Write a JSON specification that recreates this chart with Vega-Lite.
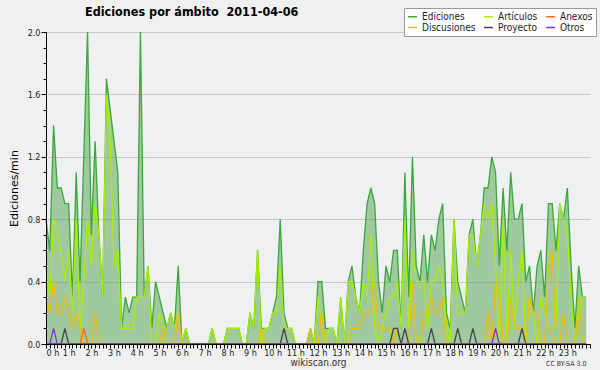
{
"$schema": "https://vega.github.io/schema/vega-lite/v6.json",
"autosize": "none",
"width": 544, "height": 312,
"padding": {"left": 46, "top": 32, "right": 10, "bottom": 26},
"background": "#f0f0f0",
"config": {"view": {"fill": "#eef0f2", "stroke": null}, "font": "DejaVu Sans"},
"title": {"text": "Ediciones por ámbito \u00a02011-04-06", "anchor": "start", "frame": "group", "dx": 39, "offset": 0, "dy": 11, "font": "DejaVu Sans Condensed", "fontSize": 12.5, "fontWeight": "bold", "color": "#000000"},
"data": {"values": [
{"t":0,"Ediciones":0.8,"Artículos":0.5,"Anexos":0,"Discusiones":0.3,"Proyecto":0,"Otros":0},
{"t":10,"Ediciones":0.6,"Artículos":0.3,"Anexos":0,"Discusiones":0.2,"Proyecto":0,"Otros":0},
{"t":20,"Ediciones":1.4,"Artículos":0.8,"Anexos":0,"Discusiones":0.4,"Proyecto":0,"Otros":0.1},
{"t":30,"Ediciones":1.0,"Artículos":0.7,"Anexos":0,"Discusiones":0.2,"Proyecto":0,"Otros":0},
{"t":40,"Ediciones":1.0,"Artículos":0.6,"Anexos":0,"Discusiones":0.2,"Proyecto":0,"Otros":0},
{"t":50,"Ediciones":0.9,"Artículos":0.4,"Anexos":0,"Discusiones":0.3,"Proyecto":0.1,"Otros":0},
{"t":60,"Ediciones":0.9,"Artículos":0.6,"Anexos":0,"Discusiones":0.2,"Proyecto":0,"Otros":0},
{"t":70,"Ediciones":0.3,"Artículos":0.2,"Anexos":0,"Discusiones":0.1,"Proyecto":0,"Otros":0},
{"t":80,"Ediciones":1.1,"Artículos":0.8,"Anexos":0,"Discusiones":0.2,"Proyecto":0,"Otros":0},
{"t":90,"Ediciones":0.4,"Artículos":0.1,"Anexos":0,"Discusiones":0.1,"Proyecto":0,"Otros":0},
{"t":100,"Ediciones":1.2,"Artículos":0.4,"Anexos":0.1,"Discusiones":0,"Proyecto":0,"Otros":0},
{"t":110,"Ediciones":2.0,"Artículos":0.8,"Anexos":0,"Discusiones":0,"Proyecto":0,"Otros":0},
{"t":120,"Ediciones":0.7,"Artículos":0.5,"Anexos":0,"Discusiones":0,"Proyecto":0,"Otros":0},
{"t":130,"Ediciones":1.3,"Artículos":0.9,"Anexos":0,"Discusiones":0.2,"Proyecto":0,"Otros":0},
{"t":140,"Ediciones":0.7,"Artículos":0.7,"Anexos":0,"Discusiones":0,"Proyecto":0,"Otros":0},
{"t":150,"Ediciones":0.3,"Artículos":0.3,"Anexos":0,"Discusiones":0,"Proyecto":0,"Otros":0},
{"t":160,"Ediciones":1.7,"Artículos":1.6,"Anexos":0,"Discusiones":0,"Proyecto":0,"Otros":0},
{"t":170,"Ediciones":1.5,"Artículos":1.3,"Anexos":0,"Discusiones":0,"Proyecto":0,"Otros":0},
{"t":180,"Ediciones":1.3,"Artículos":0.5,"Anexos":0,"Discusiones":0,"Proyecto":0,"Otros":0},
{"t":190,"Ediciones":1.1,"Artículos":0.6,"Anexos":0,"Discusiones":0,"Proyecto":0,"Otros":0},
{"t":200,"Ediciones":0.1,"Artículos":0.1,"Anexos":0,"Discusiones":0,"Proyecto":0,"Otros":0},
{"t":210,"Ediciones":0.3,"Artículos":0.1,"Anexos":0,"Discusiones":0,"Proyecto":0,"Otros":0},
{"t":220,"Ediciones":0.2,"Artículos":0.1,"Anexos":0,"Discusiones":0,"Proyecto":0,"Otros":0},
{"t":230,"Ediciones":0.3,"Artículos":0.1,"Anexos":0,"Discusiones":0,"Proyecto":0,"Otros":0},
{"t":240,"Ediciones":0.3,"Artículos":0.3,"Anexos":0,"Discusiones":0,"Proyecto":0,"Otros":0},
{"t":250,"Ediciones":2.0,"Artículos":0.3,"Anexos":0,"Discusiones":0,"Proyecto":0,"Otros":0},
{"t":260,"Ediciones":0.3,"Artículos":0.3,"Anexos":0,"Discusiones":0,"Proyecto":0,"Otros":0},
{"t":270,"Ediciones":0.5,"Artículos":0.5,"Anexos":0,"Discusiones":0,"Proyecto":0,"Otros":0},
{"t":280,"Ediciones":0.1,"Artículos":0,"Anexos":0,"Discusiones":0,"Proyecto":0,"Otros":0},
{"t":290,"Ediciones":0.4,"Artículos":0,"Anexos":0,"Discusiones":0,"Proyecto":0,"Otros":0},
{"t":300,"Ediciones":0.3,"Artículos":0.2,"Anexos":0,"Discusiones":0,"Proyecto":0,"Otros":0},
{"t":310,"Ediciones":0.2,"Artículos":0.1,"Anexos":0,"Discusiones":0.1,"Proyecto":0,"Otros":0},
{"t":320,"Ediciones":0.1,"Artículos":0.1,"Anexos":0,"Discusiones":0,"Proyecto":0,"Otros":0},
{"t":330,"Ediciones":0.2,"Artículos":0.2,"Anexos":0,"Discusiones":0,"Proyecto":0,"Otros":0},
{"t":340,"Ediciones":0.1,"Artículos":0.1,"Anexos":0,"Discusiones":0,"Proyecto":0,"Otros":0},
{"t":350,"Ediciones":0.5,"Artículos":0.2,"Anexos":0,"Discusiones":0.2,"Proyecto":0,"Otros":0},
{"t":360,"Ediciones":0,"Artículos":0,"Anexos":0,"Discusiones":0,"Proyecto":0,"Otros":0},
{"t":370,"Ediciones":0.1,"Artículos":0.1,"Anexos":0,"Discusiones":0,"Proyecto":0,"Otros":0},
{"t":380,"Ediciones":0,"Artículos":0,"Anexos":0,"Discusiones":0,"Proyecto":0,"Otros":0},
{"t":390,"Ediciones":0,"Artículos":0,"Anexos":0,"Discusiones":0,"Proyecto":0,"Otros":0},
{"t":400,"Ediciones":0,"Artículos":0,"Anexos":0,"Discusiones":0,"Proyecto":0,"Otros":0},
{"t":410,"Ediciones":0,"Artículos":0,"Anexos":0,"Discusiones":0,"Proyecto":0,"Otros":0},
{"t":420,"Ediciones":0,"Artículos":0,"Anexos":0,"Discusiones":0,"Proyecto":0,"Otros":0},
{"t":430,"Ediciones":0,"Artículos":0,"Anexos":0,"Discusiones":0,"Proyecto":0,"Otros":0},
{"t":440,"Ediciones":0.1,"Artículos":0.1,"Anexos":0,"Discusiones":0,"Proyecto":0,"Otros":0},
{"t":450,"Ediciones":0,"Artículos":0,"Anexos":0,"Discusiones":0,"Proyecto":0,"Otros":0},
{"t":460,"Ediciones":0,"Artículos":0,"Anexos":0,"Discusiones":0,"Proyecto":0,"Otros":0},
{"t":470,"Ediciones":0,"Artículos":0,"Anexos":0,"Discusiones":0,"Proyecto":0,"Otros":0},
{"t":480,"Ediciones":0.1,"Artículos":0.1,"Anexos":0,"Discusiones":0,"Proyecto":0,"Otros":0},
{"t":490,"Ediciones":0.1,"Artículos":0.1,"Anexos":0,"Discusiones":0,"Proyecto":0,"Otros":0},
{"t":500,"Ediciones":0.1,"Artículos":0.1,"Anexos":0,"Discusiones":0,"Proyecto":0,"Otros":0},
{"t":510,"Ediciones":0.1,"Artículos":0.1,"Anexos":0,"Discusiones":0,"Proyecto":0,"Otros":0},
{"t":520,"Ediciones":0,"Artículos":0,"Anexos":0,"Discusiones":0,"Proyecto":0,"Otros":0},
{"t":530,"Ediciones":0,"Artículos":0,"Anexos":0,"Discusiones":0,"Proyecto":0,"Otros":0},
{"t":540,"Ediciones":0.2,"Artículos":0.2,"Anexos":0,"Discusiones":0,"Proyecto":0,"Otros":0},
{"t":550,"Ediciones":0.1,"Artículos":0.1,"Anexos":0,"Discusiones":0,"Proyecto":0,"Otros":0},
{"t":560,"Ediciones":0.6,"Artículos":0.6,"Anexos":0,"Discusiones":0,"Proyecto":0,"Otros":0},
{"t":570,"Ediciones":0.1,"Artículos":0,"Anexos":0,"Discusiones":0.1,"Proyecto":0,"Otros":0},
{"t":580,"Ediciones":0.1,"Artículos":0.1,"Anexos":0,"Discusiones":0,"Proyecto":0,"Otros":0},
{"t":590,"Ediciones":0.1,"Artículos":0.1,"Anexos":0,"Discusiones":0,"Proyecto":0,"Otros":0},
{"t":600,"Ediciones":0.2,"Artículos":0.2,"Anexos":0,"Discusiones":0,"Proyecto":0,"Otros":0},
{"t":610,"Ediciones":0.3,"Artículos":0.2,"Anexos":0,"Discusiones":0,"Proyecto":0,"Otros":0},
{"t":620,"Ediciones":0.8,"Artículos":0.5,"Anexos":0,"Discusiones":0,"Proyecto":0,"Otros":0},
{"t":630,"Ediciones":0.2,"Artículos":0.1,"Anexos":0,"Discusiones":0,"Proyecto":0.1,"Otros":0},
{"t":640,"Ediciones":0.1,"Artículos":0.1,"Anexos":0,"Discusiones":0,"Proyecto":0,"Otros":0},
{"t":650,"Ediciones":0.1,"Artículos":0.1,"Anexos":0,"Discusiones":0,"Proyecto":0,"Otros":0},
{"t":660,"Ediciones":0,"Artículos":0,"Anexos":0,"Discusiones":0,"Proyecto":0,"Otros":0},
{"t":670,"Ediciones":0,"Artículos":0,"Anexos":0,"Discusiones":0,"Proyecto":0,"Otros":0},
{"t":680,"Ediciones":0,"Artículos":0,"Anexos":0,"Discusiones":0,"Proyecto":0,"Otros":0},
{"t":690,"Ediciones":0,"Artículos":0,"Anexos":0,"Discusiones":0,"Proyecto":0,"Otros":0},
{"t":700,"Ediciones":0.1,"Artículos":0,"Anexos":0,"Discusiones":0.1,"Proyecto":0,"Otros":0},
{"t":710,"Ediciones":0,"Artículos":0,"Anexos":0,"Discusiones":0,"Proyecto":0,"Otros":0},
{"t":720,"Ediciones":0.4,"Artículos":0.3,"Anexos":0,"Discusiones":0,"Proyecto":0,"Otros":0},
{"t":730,"Ediciones":0.4,"Artículos":0.1,"Anexos":0,"Discusiones":0.2,"Proyecto":0,"Otros":0},
{"t":740,"Ediciones":0.1,"Artículos":0,"Anexos":0,"Discusiones":0,"Proyecto":0,"Otros":0},
{"t":750,"Ediciones":0.1,"Artículos":0.1,"Anexos":0,"Discusiones":0,"Proyecto":0,"Otros":0},
{"t":760,"Ediciones":0.1,"Artículos":0.1,"Anexos":0,"Discusiones":0,"Proyecto":0,"Otros":0},
{"t":770,"Ediciones":0,"Artículos":0,"Anexos":0,"Discusiones":0,"Proyecto":0,"Otros":0},
{"t":780,"Ediciones":0.3,"Artículos":0.3,"Anexos":0,"Discusiones":0,"Proyecto":0,"Otros":0},
{"t":790,"Ediciones":0,"Artículos":0,"Anexos":0,"Discusiones":0,"Proyecto":0,"Otros":0},
{"t":800,"Ediciones":0.4,"Artículos":0.4,"Anexos":0,"Discusiones":0,"Proyecto":0,"Otros":0},
{"t":810,"Ediciones":0.5,"Artículos":0.4,"Anexos":0,"Discusiones":0.1,"Proyecto":0,"Otros":0},
{"t":820,"Ediciones":0.3,"Artículos":0.3,"Anexos":0,"Discusiones":0.1,"Proyecto":0,"Otros":0},
{"t":830,"Ediciones":0.2,"Artículos":0.2,"Anexos":0,"Discusiones":0.1,"Proyecto":0,"Otros":0},
{"t":840,"Ediciones":0.6,"Artículos":0.4,"Anexos":0,"Discusiones":0.2,"Proyecto":0,"Otros":0},
{"t":850,"Ediciones":0.9,"Artículos":0.3,"Anexos":0,"Discusiones":0.2,"Proyecto":0,"Otros":0},
{"t":860,"Ediciones":1.0,"Artículos":0.7,"Anexos":0,"Discusiones":0.2,"Proyecto":0,"Otros":0},
{"t":870,"Ediciones":0.9,"Artículos":0.1,"Anexos":0,"Discusiones":0.4,"Proyecto":0,"Otros":0},
{"t":880,"Ediciones":0.4,"Artículos":0,"Anexos":0,"Discusiones":0.1,"Proyecto":0,"Otros":0},
{"t":890,"Ediciones":0.2,"Artículos":0.1,"Anexos":0,"Discusiones":0.1,"Proyecto":0,"Otros":0},
{"t":900,"Ediciones":0.5,"Artículos":0.2,"Anexos":0,"Discusiones":0.1,"Proyecto":0,"Otros":0},
{"t":910,"Ediciones":0.4,"Artículos":0.3,"Anexos":0,"Discusiones":0.1,"Proyecto":0,"Otros":0},
{"t":920,"Ediciones":0.6,"Artículos":0.3,"Anexos":0,"Discusiones":0,"Proyecto":0.1,"Otros":0},
{"t":930,"Ediciones":0.6,"Artículos":0.4,"Anexos":0,"Discusiones":0.1,"Proyecto":0.1,"Otros":0},
{"t":940,"Ediciones":0.1,"Artículos":0.1,"Anexos":0,"Discusiones":0,"Proyecto":0,"Otros":0},
{"t":950,"Ediciones":1.1,"Artículos":0.8,"Anexos":0,"Discusiones":0,"Proyecto":0.1,"Otros":0},
{"t":960,"Ediciones":0.3,"Artículos":0.1,"Anexos":0,"Discusiones":0,"Proyecto":0,"Otros":0},
{"t":970,"Ediciones":1.2,"Artículos":0.6,"Anexos":0,"Discusiones":0.4,"Proyecto":0,"Otros":0},
{"t":980,"Ediciones":0.5,"Artículos":0.4,"Anexos":0,"Discusiones":0,"Proyecto":0,"Otros":0},
{"t":990,"Ediciones":0.4,"Artículos":0.4,"Anexos":0,"Discusiones":0,"Proyecto":0,"Otros":0},
{"t":1000,"Ediciones":0.7,"Artículos":0.4,"Anexos":0,"Discusiones":0.2,"Proyecto":0,"Otros":0},
{"t":1010,"Ediciones":0.4,"Artículos":0.1,"Anexos":0,"Discusiones":0.2,"Proyecto":0,"Otros":0},
{"t":1020,"Ediciones":0.7,"Artículos":0.4,"Anexos":0,"Discusiones":0.3,"Proyecto":0.1,"Otros":0},
{"t":1030,"Ediciones":0.6,"Artículos":0.4,"Anexos":0,"Discusiones":0.2,"Proyecto":0,"Otros":0},
{"t":1040,"Ediciones":0.8,"Artículos":0.5,"Anexos":0,"Discusiones":0.2,"Proyecto":0,"Otros":0},
{"t":1050,"Ediciones":0.9,"Artículos":0.4,"Anexos":0,"Discusiones":0.3,"Proyecto":0,"Otros":0},
{"t":1060,"Ediciones":0.2,"Artículos":0.1,"Anexos":0,"Discusiones":0,"Proyecto":0,"Otros":0},
{"t":1070,"Ediciones":0.1,"Artículos":0,"Anexos":0,"Discusiones":0,"Proyecto":0,"Otros":0},
{"t":1080,"Ediciones":0.8,"Artículos":0.8,"Anexos":0,"Discusiones":0,"Proyecto":0,"Otros":0},
{"t":1090,"Ediciones":0.4,"Artículos":0.2,"Anexos":0,"Discusiones":0,"Proyecto":0.1,"Otros":0},
{"t":1100,"Ediciones":0.3,"Artículos":0.2,"Anexos":0,"Discusiones":0,"Proyecto":0,"Otros":0},
{"t":1110,"Ediciones":0.2,"Artículos":0.2,"Anexos":0,"Discusiones":0,"Proyecto":0,"Otros":0},
{"t":1120,"Ediciones":0.7,"Artículos":0.7,"Anexos":0,"Discusiones":0,"Proyecto":0,"Otros":0},
{"t":1130,"Ediciones":0.8,"Artículos":0.7,"Anexos":0,"Discusiones":0,"Proyecto":0.1,"Otros":0},
{"t":1140,"Ediciones":0.5,"Artículos":0.5,"Anexos":0,"Discusiones":0,"Proyecto":0,"Otros":0},
{"t":1150,"Ediciones":0.7,"Artículos":0.7,"Anexos":0,"Discusiones":0,"Proyecto":0,"Otros":0},
{"t":1160,"Ediciones":1.0,"Artículos":0.9,"Anexos":0,"Discusiones":0,"Proyecto":0,"Otros":0},
{"t":1170,"Ediciones":1.0,"Artículos":0.8,"Anexos":0,"Discusiones":0.2,"Proyecto":0,"Otros":0},
{"t":1180,"Ediciones":1.2,"Artículos":0.9,"Anexos":0,"Discusiones":0,"Proyecto":0,"Otros":0},
{"t":1190,"Ediciones":1.1,"Artículos":0.5,"Anexos":0,"Discusiones":0.4,"Proyecto":0,"Otros":0.1},
{"t":1200,"Ediciones":0.5,"Artículos":0,"Anexos":0,"Discusiones":0.3,"Proyecto":0,"Otros":0},
{"t":1210,"Ediciones":1.0,"Artículos":0.8,"Anexos":0,"Discusiones":0,"Proyecto":0,"Otros":0},
{"t":1220,"Ediciones":0.6,"Artículos":0,"Anexos":0,"Discusiones":0,"Proyecto":0,"Otros":0},
{"t":1230,"Ediciones":1.1,"Artículos":0.6,"Anexos":0,"Discusiones":0.3,"Proyecto":0,"Otros":0},
{"t":1240,"Ediciones":0.8,"Artículos":0.1,"Anexos":0,"Discusiones":0.1,"Proyecto":0,"Otros":0},
{"t":1250,"Ediciones":0.8,"Artículos":0.4,"Anexos":0,"Discusiones":0.1,"Proyecto":0,"Otros":0},
{"t":1260,"Ediciones":0.9,"Artículos":0.6,"Anexos":0,"Discusiones":0.1,"Proyecto":0.1,"Otros":0},
{"t":1270,"Ediciones":0.4,"Artículos":0,"Anexos":0,"Discusiones":0,"Proyecto":0,"Otros":0},
{"t":1280,"Ediciones":0.5,"Artículos":0.3,"Anexos":0,"Discusiones":0.3,"Proyecto":0,"Otros":0},
{"t":1290,"Ediciones":0.2,"Artículos":0.2,"Anexos":0,"Discusiones":0.2,"Proyecto":0,"Otros":0},
{"t":1300,"Ediciones":0.5,"Artículos":0,"Anexos":0,"Discusiones":0.2,"Proyecto":0,"Otros":0},
{"t":1310,"Ediciones":0.6,"Artículos":0.3,"Anexos":0,"Discusiones":0,"Proyecto":0,"Otros":0},
{"t":1320,"Ediciones":0.3,"Artículos":0.2,"Anexos":0,"Discusiones":0,"Proyecto":0,"Otros":0},
{"t":1330,"Ediciones":0.9,"Artículos":0.1,"Anexos":0,"Discusiones":0.5,"Proyecto":0,"Otros":0},
{"t":1340,"Ediciones":0.9,"Artículos":0.1,"Anexos":0,"Discusiones":0.6,"Proyecto":0,"Otros":0},
{"t":1350,"Ediciones":0.6,"Artículos":0.1,"Anexos":0,"Discusiones":0,"Proyecto":0,"Otros":0},
{"t":1360,"Ediciones":0.9,"Artículos":0.9,"Anexos":0,"Discusiones":0,"Proyecto":0,"Otros":0},
{"t":1370,"Ediciones":0.8,"Artículos":0.8,"Anexos":0,"Discusiones":0.2,"Proyecto":0,"Otros":0},
{"t":1380,"Ediciones":1.0,"Artículos":0.7,"Anexos":0,"Discusiones":0,"Proyecto":0,"Otros":0},
{"t":1390,"Ediciones":0.5,"Artículos":0.3,"Anexos":0,"Discusiones":0,"Proyecto":0,"Otros":0},
{"t":1400,"Ediciones":0.1,"Artículos":0,"Anexos":0,"Discusiones":0,"Proyecto":0,"Otros":0},
{"t":1410,"Ediciones":0.5,"Artículos":0.2,"Anexos":0,"Discusiones":0.3,"Proyecto":0,"Otros":0},
{"t":1420,"Ediciones":0.3,"Artículos":0.3,"Anexos":0,"Discusiones":0,"Proyecto":0,"Otros":0},
{"t":1430,"Ediciones":0.3,"Artículos":0.3,"Anexos":0,"Discusiones":0,"Proyecto":0,"Otros":0}
]},
"encoding": {
  "x": {"field": "t", "type": "quantitative", "scale": {"domain": [0, 1440], "nice": false, "zero": false},
    "axis": {"title": "wikiscan.org", "titleFont": "DejaVu Sans Condensed", "titleFontSize": 10, "titleFontWeight": "normal", "titleColor": "#333333", "titlePadding": 0,
      "values": [0,10,20,30,40,50,60,70,80,90,100,110,120,130,140,150,160,170,180,190,200,210,220,230,240,250,260,270,280,290,300,310,320,330,340,350,360,370,380,390,400,410,420,430,440,450,460,470,480,490,500,510,520,530,540,550,560,570,580,590,600,610,620,630,640,650,660,670,680,690,700,710,720,730,740,750,760,770,780,790,800,810,820,830,840,850,860,870,880,890,900,910,920,930,940,950,960,970,980,990,1000,1010,1020,1030,1040,1050,1060,1070,1080,1090,1100,1110,1120,1130,1140,1150,1160,1170,1180,1190,1200,1210,1220,1230,1240,1250,1260,1270,1280,1290,1300,1310,1320,1330,1340,1350,1360,1370,1380,1390,1400,1410,1420,1430,1440],
      "labelExpr": "(datum.value % 60 === 0 && datum.value < 1440) ? (datum.value / 60) + ' h' : ''",
      "labelOverlap": false, "labelFont": "DejaVu Sans Condensed", "labelFontSize": 9, "labelColor": "#222222", "labelPadding": 0,
      "tickSize": 4, "tickColor": "#000000", "domainColor": "#000000", "grid": false, "zindex": 1}}
},
"layer": [
  {"mark": {"type": "area", "color": "#52a24e", "opacity": 0.5},
   "encoding": {"y": {"field": "Ediciones", "type": "quantitative", "scale": {"domain": [0, 2], "nice": false},
     "axis": {"orient": "right", "domain": false, "ticks": false, "labels": false, "grid": true, "gridColor": "#c8c8c8",
       "values": [0.4, 0.8, 1.2, 1.6, 2.0], "zindex": 0,
       "title": "CC BY-SA 3.0", "titleFont": "DejaVu Sans Condensed", "titleAngle": 0, "titleFontSize": 7, "titleFontWeight": "normal", "titleColor": "#333333",
       "titleAlign": "right", "titleBaseline": "bottom", "titleX": -4, "titleY": 334}}}},
  {"transform": [{"fold": ["Ediciones", "Artículos", "Discusiones", "Anexos", "Proyecto", "Otros"], "as": ["serie", "v"]}],
   "mark": {"type": "line", "strokeWidth": 1.3},
   "encoding": {
     "y": {"field": "v", "type": "quantitative", "scale": {"domain": [0, 2], "nice": false},
       "axis": {"orient": "left", "title": "Ediciones/min", "titleFontSize": 11, "titleFontWeight": "normal", "titleColor": "#000000", "titlePadding": 8,
         "values": [0,0.1,0.2,0.3,0.4,0.5,0.6,0.7,0.8,0.9,1.0,1.1,1.2,1.3,1.4,1.5,1.6,1.7,1.8,1.9,2.0],
         "format": ".1f", "labelExpr": "(round(datum.value * 10) % 4 === 0) ? datum.label : ''", "labelOverlap": false,
         "labelFont": "DejaVu Sans Condensed", "labelFontSize": 9, "labelColor": "#222222", "labelPadding": 1,
         "tickSize": {"condition": {"test": "round(datum.value * 10) % 4 === 0", "value": 5}, "value": 3},
         "tickColor": "#000000", "domainColor": "#000000", "grid": false, "zindex": 1}},
     "color": {"field": "serie", "type": "nominal",
       "scale": {"domain": ["Ediciones", "Artículos", "Anexos", "Discusiones", "Proyecto", "Otros"],
                 "range": ["#3aa83a", "#aaee00", "#ff6a1a", "#f2bd00", "#444444", "#8a2be2"]},
       "legend": {"orient": "none", "legendX": 358, "legendY": -24, "direction": "horizontal", "columns": 3, "title": null,
         "symbolType": "stroke", "symbolSize": 81, "symbolStrokeWidth": 1.5, "labelFont": "DejaVu Sans Condensed", "labelFontSize": 10, "labelColor": "#222222",
         "fillColor": "#ffffff", "strokeColor": "#999999", "padding": 3, "rowPadding": 0, "columnPadding": 5, "labelOffset": 4}}
   }}
],
"resolve": {"axis": {"y": "independent"}}
}
